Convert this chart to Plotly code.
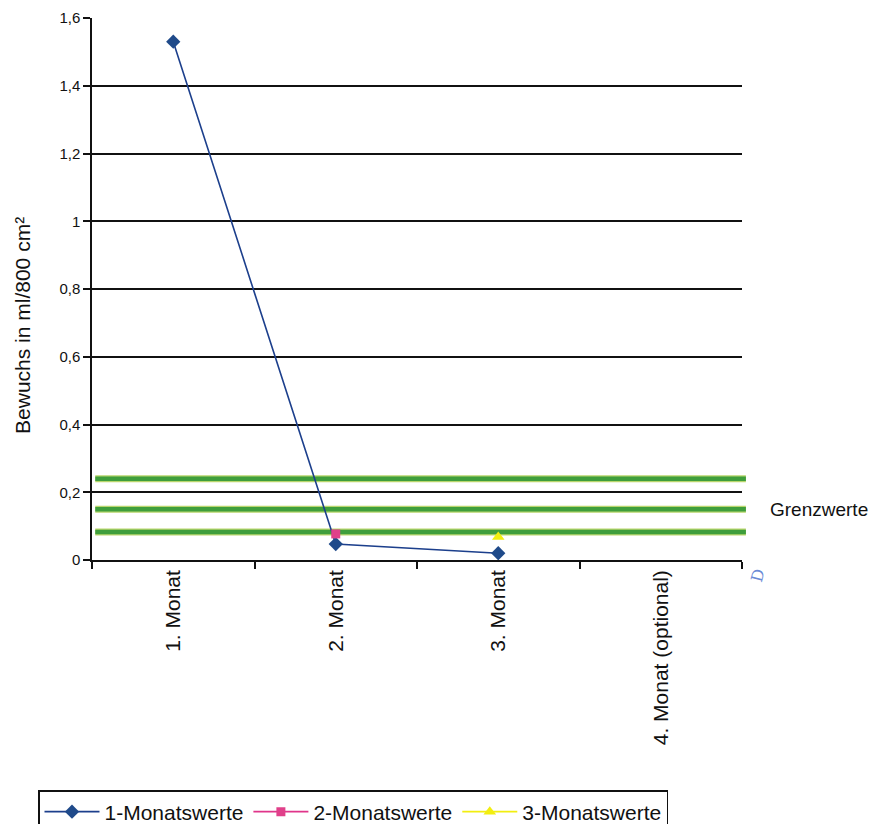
import plotly.graph_objects as go

months = ["1. Monat", "2. Monat", "3. Monat", "4. Monat (optional)"]
werte_1 = [1.53, 0.047, 0.02, None]
werte_2 = [None, 0.077, None, None]
werte_3 = [None, None, 0.068, None]
grenzwerte = [0.24, 0.15, 0.083]
y_ticks = [0, 0.2, 0.4, 0.6, 0.8, 1.0, 1.2, 1.4, 1.6]
y_ticktext = ["0", "0,2", "0,4", "0,6", "0,8", "1", "1,2", "1,4", "1,6"]

FONT = "Liberation Sans, Arial, sans-serif"

# page body has an 8px margin, so the figure is shifted by 8px
W, H = 869, 816

fig = go.Figure()
fig.add_trace(go.Scatter(
    x=months, y=werte_1, name="1-Monatswerte", mode="lines+markers",
    line=dict(color="#1c3f8c", width=1.6),
    marker=dict(symbol="diamond", size=11, color="#1f4a8a"),
    connectgaps=False,
))
fig.add_trace(go.Scatter(
    x=months, y=werte_2, name="2-Monatswerte", mode="lines+markers",
    line=dict(color="#e0358a", width=1.6),
    marker=dict(symbol="square", size=9, color="#e0408a"),
))
fig.add_trace(go.Scatter(
    x=months, y=werte_3, name="3-Monatswerte", mode="lines+markers",
    line=dict(color="#f2ee10", width=1.6),
    marker=dict(symbol="triangle-up", size=11, color="#f2ee10"),
))

for g in grenzwerte:
    fig.add_shape(type="line", xref="paper", yref="y", x0=0.005, x1=1.006, y0=g, y1=g,
                  line=dict(color="#b9d66c", width=7), layer="between")
    fig.add_shape(type="line", xref="paper", yref="y", x0=0.005, x1=1.006, y0=g, y1=g,
                  line=dict(color="#3f9e3c", width=4.5), layer="between")

fig.add_annotation(x=1.04, xref="paper", y=grenzwerte[1], yref="y", text="Grenzwerte",
                   showarrow=False, xanchor="left", yanchor="middle",
                   font=dict(family=FONT, size=19, color="#111111"))
fig.add_annotation(x=-0.106, xref="paper", y=0.432, yref="paper",
                   text="Bewuchs in ml/800 cm²", textangle=-90, showarrow=False,
                   xanchor="center", yanchor="middle",
                   font=dict(family=FONT, size=21, color="#111111"))
fig.add_annotation(x=1.024, xref="paper", y=-0.028, yref="paper", text="D",
                   textangle=-75, showarrow=False, xanchor="center", yanchor="middle",
                   font=dict(family="DejaVu Serif", size=16, color="#6a8ad6"))

fig.update_layout(
    width=W, height=H,
    margin=dict(l=84, r=135, t=10, b=264),
    paper_bgcolor="white", plot_bgcolor="white",
    font=dict(family=FONT, color="#111111"),
    showlegend=True,
    legend=dict(orientation="h", xref="container", yref="container",
                x=30 / W, xanchor="left", y=1 - 782 / H, yanchor="top",
                bordercolor="#111111", borderwidth=1.5, bgcolor="white",
                font=dict(family=FONT, size=21, color="#111111"),
                itemwidth=55, tracegroupgap=0),
    xaxis=dict(type="category", categoryorder="array", categoryarray=months,
               range=[-0.5, 3.5], showline=True, linecolor="#111111", linewidth=1.5,
               ticks="outside", tickson="boundaries", ticklen=7, tickcolor="#111111",
               tickwidth=1.5, tickangle=-90, showgrid=False, zeroline=False,
               tickfont=dict(family=FONT, size=21, color="#111111"), automargin=False),
    yaxis=dict(range=[0, 1.6], tickvals=y_ticks, ticktext=y_ticktext,
               showline=True, linecolor="#111111", linewidth=1.5,
               ticks="outside", ticklen=7, tickcolor="#111111", tickwidth=1.5,
               showgrid=True, gridcolor="#111111", gridwidth=1.5, zeroline=False,
               tickfont=dict(family=FONT, size=15, color="#111111"), automargin=False),
)

fig.write_html("out.html")
